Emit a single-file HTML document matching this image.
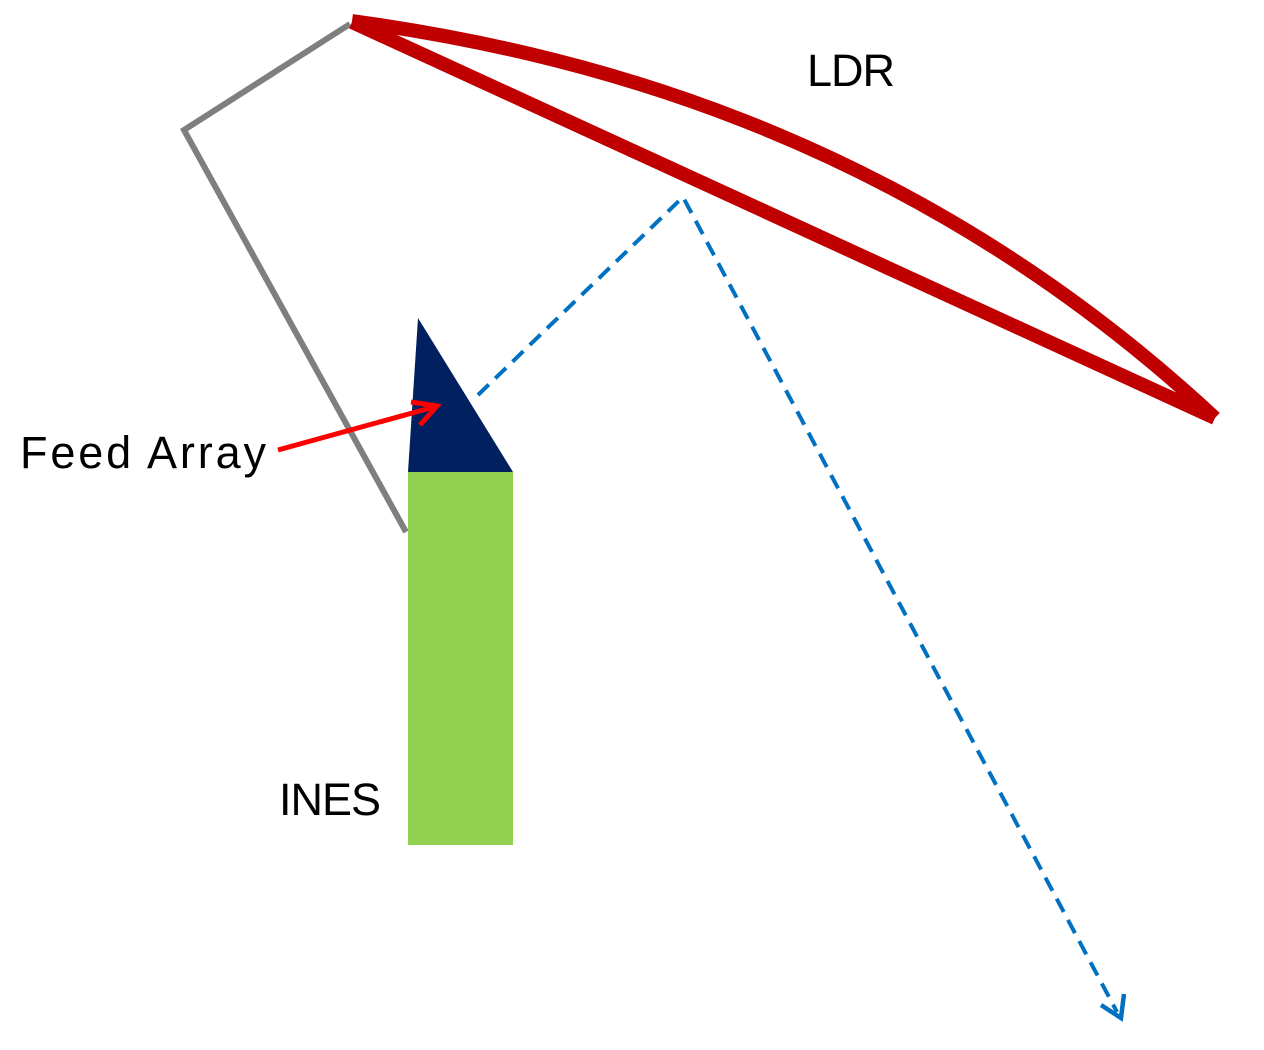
<!DOCTYPE html>
<html><head><style>body{margin:0;background:#fff}svg{display:block}text{font-family:"Liberation Sans",sans-serif;font-size:45px;fill:#000}</style></head>
<body><svg width="1264" height="1050" viewBox="0 0 1264 1050">
<polyline points="350,24 184,130 406,532" fill="none" stroke="#7f7f7f" stroke-width="6"/>
<rect x="408" y="472" width="105" height="373" fill="#92d050"/>
<polygon points="418,318 408,472 513,472" fill="#002060"/>
<path d="M352,21 C560,50 900,125 1215,418" fill="none" stroke="#c00000" stroke-width="14"/>
<line x1="352" y1="22" x2="1215" y2="418" stroke="#c00000" stroke-width="14"/>
<polyline points="478,395 683,197 1117,1012" fill="none" stroke="#0070c0" stroke-width="4" stroke-dasharray="15,9"/>
<polyline points="1101,1005 1121,1018 1124,994" fill="none" stroke="#0070c0" stroke-width="4.5"/>
<line x1="278" y1="450" x2="434" y2="407" stroke="#ff0000" stroke-width="5"/>
<polyline points="411,402 437,406 420,425" fill="none" stroke="#ff0000" stroke-width="5"/>
<text x="807" y="86" textLength="88">LDR</text>
<text x="20" y="468" textLength="246">Feed Array</text>
<text x="279" y="815" textLength="102">INES</text>
</svg></body></html>
